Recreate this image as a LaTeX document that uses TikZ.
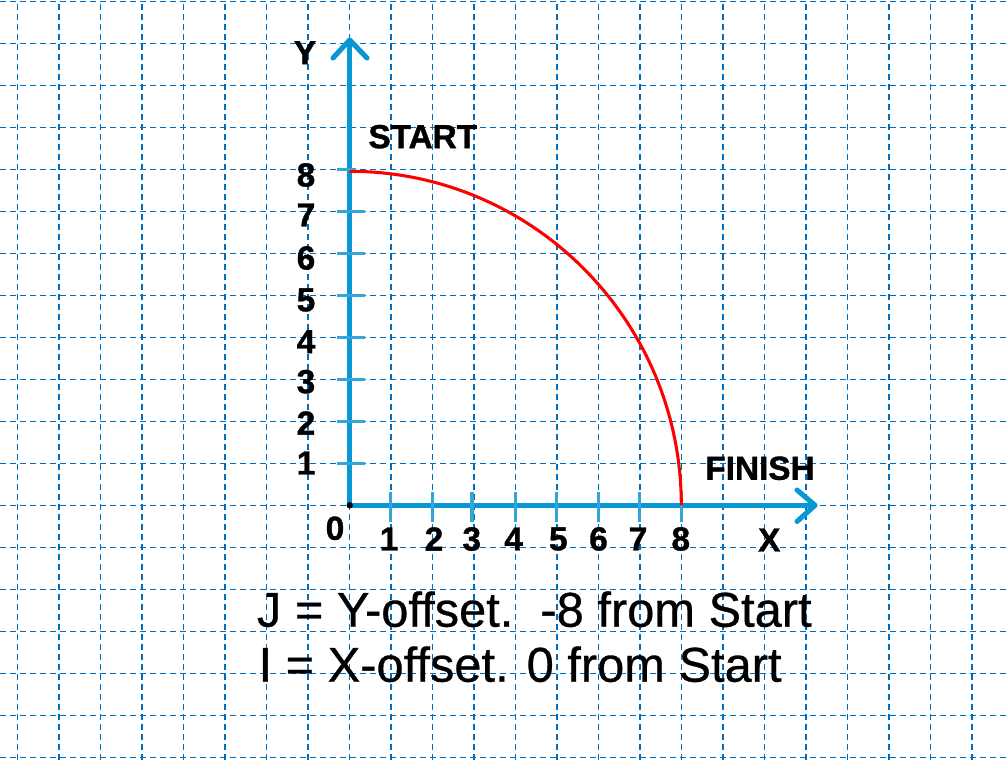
\documentclass[tikz,border=0pt]{standalone}
\usepackage{fontspec}
\setmainfont{Liberation Sans}
\newfontfamily\lblfont[FakeBold=1.2]{Liberation Sans Bold}
\newfontfamily\notefont[FakeBold=0.6]{Liberation Sans}
\definecolor{gridblue}{RGB}{0,108,190}
\definecolor{axisblue}{RGB}{8,150,212}
\definecolor{tickblue}{RGB}{50,166,216}
\begin{document}
\begin{tikzpicture}[x=0.75pt,y=0.75pt,
  gridline/.style={draw=gridblue,line width=1pt,dash pattern=on 4.5pt off 3pt},
  axisline/.style={draw=axisblue,line width=3.8pt},
  arrowhead/.style={draw=axisblue,line width=3.8pt,line cap=round,line join=round},
  tickmark/.style={draw=tickblue,line width=2.3pt},
  lbl/.style={inner sep=0pt,font=\fontsize{25}{30}\lblfont},
  note/.style={inner sep=0pt,anchor=base west,font=\fontsize{36.6}{42}\notefont},
  curve/.style={draw=red,line width=2.3pt}]
\useasboundingbox (0,0) rectangle (1007,760);
\fill[white] (0,0) rectangle (1007,760);
% grid
\foreach \k in {0,...,23} \draw[gridline] ({17.5+41.5*\k},0) -- ({17.5+41.5*\k},760);
\foreach \k in {0,...,18} \draw[gridline] (0,{758.5-42*\k}) -- (1007,{758.5-42*\k});
% axes
\coordinate (O) at (349.7,254.7);
\coordinate (ytop) at (349.7,720);
\coordinate (xend) at (815,254.7);
\coordinate (ya1) at (333,702);
\coordinate (ya2) at (367,702);
\coordinate (xa1) at (797,270);
\coordinate (xa2) at (797,238.5);
\draw[axisline] (O) -- (ytop);
\draw[axisline] (O) -- (xend);
\draw[arrowhead] (ya1) -- (ytop) -- (ya2);
\draw[arrowhead] (xa1) -- (xend) -- (xa2);
% ticks
\foreach \x in {390.8,432.3,472,515.3,556.8,598.3,639.8,681.3}
  \draw[tickmark] (\x,238.3) -- (\x,268.3);
\foreach \n in {1,...,7}
  \draw[tickmark] (337,{254.7+42*\n}) -- (364.5,{254.7+42*\n});
\draw[tickmark] (337,590.7) -- (356,590.7);
% arc
\coordinate (start) at (349.7,588.7);
\coordinate (finish) at (681.3,254.7);
\draw[curve] (start) arc[start angle=90,end angle=0,x radius=248.7pt,y radius=250.5pt];
% origin dot
\fill (O) circle[radius=2.4pt];
% labels
\node[lbl] (ylab) at (305,707.3) {Y};
\node[lbl] (xlab) at (769.3,220) {X};
\node[lbl] (startlab) at (422.8,623.3) {START};
\node[lbl] (finishlab) at (760,291.7) {FINISH};
\node[lbl] (zero) at (335,231.7) {0};
\foreach \n/\y in {1/297,2/337,3/378.3,4/418.3,5/460,6/502,7/545,8/585}
  \node[lbl] (y\n) at (306,\y) {\n};
\foreach \n/\x in {1/389,2/434,3/471.8,4/513.7,5/558.3,6/598.5,7/638,8/680.8}
  \node[lbl] (x\n) at (\x,221) {\n};
\node[note] (jline) at (256.7,133.3) {J = Y-offset.\ \ -8 from Start};
\node[note] (iline) at (258.3,78.3) {I = X-offset. 0 from Start};
\end{tikzpicture}
\end{document}
